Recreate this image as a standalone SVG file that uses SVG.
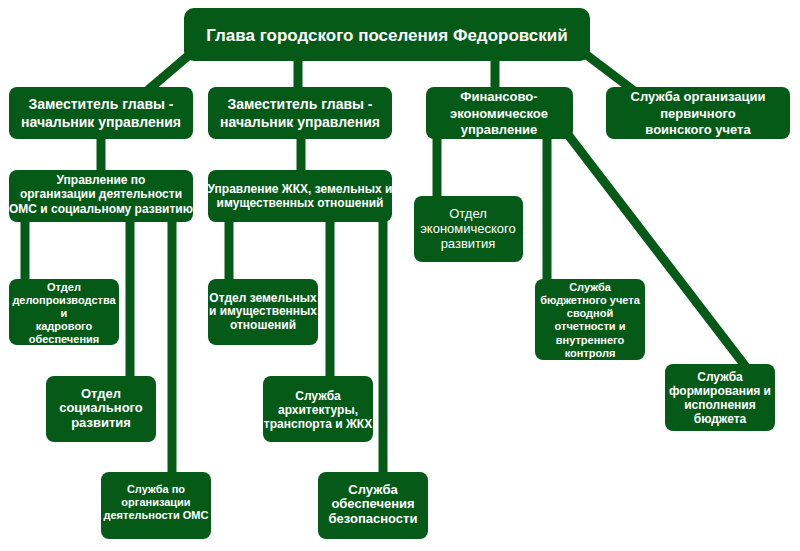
<svg xmlns="http://www.w3.org/2000/svg" width="800" height="551" viewBox="0 0 800 551">
<style>
.b{fill:#055a17}
.t{fill:#fff;font-family:"Liberation Sans",Arial,sans-serif;font-weight:bold;text-anchor:middle}
.c{stroke:#055a17;stroke-width:9;fill:none}
</style>
<rect width="800" height="551" fill="#fff"/>
<g id="connectors" class="c">
<line x1="195" y1="50" x2="148" y2="90"/>
<line x1="298" y1="58" x2="298" y2="90"/>
<line x1="495" y1="58" x2="495" y2="90"/>
<line x1="580" y1="50" x2="633" y2="90"/>
<line x1="101" y1="136" x2="101" y2="173"/>
<line x1="301" y1="136" x2="301" y2="173"/>
<line x1="25" y1="219" x2="25" y2="282"/>
<line x1="130" y1="219" x2="130" y2="379"/>
<line x1="172" y1="219" x2="172" y2="475"/>
<line x1="229" y1="219" x2="229" y2="282"/>
<line x1="330" y1="219" x2="330" y2="379"/>
<line x1="383" y1="219" x2="383" y2="475"/>
<line x1="437" y1="136" x2="437" y2="199"/>
<line x1="547" y1="136" x2="547" y2="282"/>
<line x1="566" y1="132" x2="746" y2="367"/>
</g>
<g id="n0"><rect class="b" x="184" y="8" width="406" height="53" rx="10"/><text class="t" x="387" y="41" font-size="17">Глава городского поселения Федоровский</text></g>
<g id="n1"><rect class="b" x="9" y="87" width="184" height="52" rx="8"/><text class="t" font-size="14"><tspan x="101" y="109">Заместитель главы -</tspan><tspan x="101" y="127">начальник управления</tspan></text></g>
<g id="n2"><rect class="b" x="208" y="87" width="184" height="52" rx="8"/><text class="t" font-size="14"><tspan x="300" y="109">Заместитель главы -</tspan><tspan x="300" y="127">начальник управления</tspan></text></g>
<g id="n3"><rect class="b" x="426" y="87" width="147" height="52" rx="8"/><text class="t" font-size="13"><tspan x="499" y="101">Финансово-</tspan><tspan x="499" y="118">экономическое</tspan><tspan x="499" y="134">управление</tspan></text></g>
<g id="n4"><rect class="b" x="606" y="87" width="184" height="52" rx="8"/><text class="t" font-size="13"><tspan x="698" y="101">Служба организации</tspan><tspan x="698" y="118">первичного</tspan><tspan x="698" y="134">воинского учета</tspan></text></g>
<g id="n5"><rect class="b" x="9" y="170" width="184" height="52" rx="8"/><text class="t" font-size="12"><tspan x="101" y="184">Управление по</tspan><tspan x="101" y="198">организации деятельности</tspan><tspan x="101" y="213">ОМС и социальному развитию</tspan></text></g>
<g id="n6"><rect class="b" x="208" y="170" width="184" height="52" rx="8"/><text class="t" font-size="12"><tspan x="300" y="193">Управление ЖКХ, земельных и</tspan><tspan x="300" y="207">имущественных отношений</tspan></text></g>
<g id="n7"><rect class="b" x="9" y="279" width="110" height="66" rx="8"/><text class="t" font-size="11"><tspan x="64" y="291">Отдел</tspan><tspan x="64" y="304">делопроизводства</tspan><tspan x="64" y="317">и</tspan><tspan x="64" y="330">кадрового</tspan><tspan x="64" y="343">обеспечения</tspan></text></g>
<g id="n8"><rect class="b" x="46" y="376" width="110" height="66" rx="8"/><text class="t" font-size="13"><tspan x="101" y="398">Отдел</tspan><tspan x="101" y="412">социального</tspan><tspan x="101" y="427">развития</tspan></text></g>
<g id="n9"><rect class="b" x="101" y="472" width="110" height="67" rx="8"/><text class="t" font-size="11"><tspan x="156" y="493">Служба по</tspan><tspan x="156" y="506">организации</tspan><tspan x="156" y="519">деятельности ОМС</tspan></text></g>
<g id="n10"><rect class="b" x="208" y="279" width="110" height="66" rx="8"/><text class="t" font-size="12"><tspan x="263" y="302">Отдел земельных</tspan><tspan x="263" y="315">и имущественных</tspan><tspan x="263" y="329">отношений</tspan></text></g>
<g id="n11"><rect class="b" x="263" y="376" width="110" height="66" rx="8"/><text class="t" font-size="12"><tspan x="318" y="400">Служба</tspan><tspan x="318" y="414">архитектуры,</tspan><tspan x="318" y="428">транспорта и ЖКХ</tspan></text></g>
<g id="n12"><rect class="b" x="318" y="472" width="110" height="67" rx="8"/><text class="t" font-size="13"><tspan x="373" y="494">Служба</tspan><tspan x="373" y="508">обеспечения</tspan><tspan x="373" y="523">безопасности</tspan></text></g>
<g id="n13"><rect class="b" x="414" y="196" width="109" height="66" rx="8"/><text class="t" font-size="13" font-weight="normal" style="font-weight:normal"><tspan x="468" y="218">Отдел</tspan><tspan x="468" y="233">экономического</tspan><tspan x="468" y="248">развития</tspan></text></g>
<g id="n14"><rect class="b" x="535" y="279" width="110" height="81" rx="8"/><text class="t" font-size="11"><tspan x="590" y="291">Служба</tspan><tspan x="590" y="304">бюджетного учета</tspan><tspan x="590" y="317">сводной</tspan><tspan x="590" y="330">отчетности и</tspan><tspan x="590" y="344">внутреннего</tspan><tspan x="590" y="357">контроля</tspan></text></g>
<g id="n15"><rect class="b" x="665" y="364" width="110" height="67" rx="8"/><text class="t" font-size="12"><tspan x="720" y="381">Служба</tspan><tspan x="720" y="395">формирования и</tspan><tspan x="720" y="409">исполнения</tspan><tspan x="720" y="423">бюджета</tspan></text></g>
</svg>
